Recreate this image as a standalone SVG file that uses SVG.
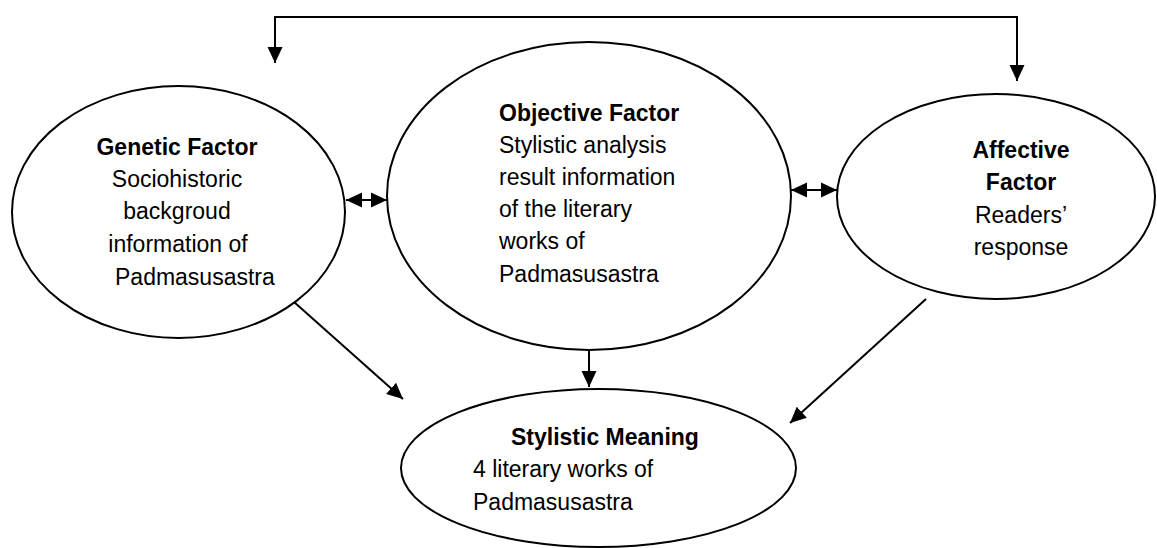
<svg xmlns="http://www.w3.org/2000/svg" width="1157" height="548" viewBox="0 0 1157 548">
<style>
.node{fill:#fff;stroke:#000;stroke-width:2}
.t{font-family:"Liberation Sans",Arial,sans-serif;font-size:23px;fill:#000}
.b{font-weight:bold}
.c{stroke:#000;stroke-width:2;fill:none}
</style>
<defs>
<marker id="ah" markerUnits="userSpaceOnUse" markerWidth="17" markerHeight="17" viewBox="0 0 17 17" refX="16" refY="8.5" orient="auto-start-reverse">
<path d="M0,1 L16,8.5 L0,16 Z" fill="#000"/>
</marker>
</defs>
<rect width="1157" height="548" fill="#fff"/>
<g id="genetic">
<ellipse class="node" cx="178.5" cy="212" rx="166.5" ry="126"/>
<text class="t b" x="177" y="155" text-anchor="middle">Genetic Factor</text>
<text class="t" x="177" y="187" text-anchor="middle">Sociohistoric</text>
<text class="t" x="177" y="219" text-anchor="middle">backgroud</text>
<text class="t" x="178" y="252" text-anchor="middle">information of</text>
<text class="t" x="115" y="285">Padmasusastra</text>
</g>
<g id="objective">
<ellipse class="node" cx="589" cy="196" rx="202" ry="154"/>
<text class="t b" x="499" y="121">Objective Factor</text>
<text class="t" x="499" y="153">Stylistic analysis</text>
<text class="t" x="499" y="185">result information</text>
<text class="t" x="499" y="217">of the literary</text>
<text class="t" x="499" y="249">works of</text>
<text class="t" x="499" y="282">Padmasusastra</text>
</g>
<g id="affective">
<ellipse class="node" cx="996" cy="196.5" rx="159" ry="102.5"/>
<text class="t b" x="1021" y="158" text-anchor="middle">Affective</text>
<text class="t b" x="1021" y="190" text-anchor="middle">Factor</text>
<text class="t" x="1021" y="223" text-anchor="middle">Readers’</text>
<text class="t" x="1021" y="255" text-anchor="middle">response</text>
</g>
<g id="stylistic">
<ellipse class="node" cx="598.5" cy="468" rx="197.5" ry="79"/>
<text class="t b" x="511" y="445">Stylistic Meaning</text>
<text class="t" x="473" y="477">4 literary works of</text>
<text class="t" x="473" y="510">Padmasusastra</text>
</g>
<g id="connectors">
<path class="c" d="M275,63 L275,17 L1017,17 L1017,81" marker-start="url(#ah)" marker-end="url(#ah)"/>
<line class="c" x1="346" y1="200" x2="387" y2="200" marker-start="url(#ah)" marker-end="url(#ah)"/>
<line class="c" x1="791" y1="190" x2="837" y2="190" marker-start="url(#ah)" marker-end="url(#ah)"/>
<line class="c" x1="294" y1="302" x2="403" y2="399" marker-end="url(#ah)"/>
<line class="c" x1="589" y1="350" x2="589" y2="387" marker-end="url(#ah)"/>
<line class="c" x1="926" y1="299" x2="790" y2="423" marker-end="url(#ah)"/>
</g>
</svg>
